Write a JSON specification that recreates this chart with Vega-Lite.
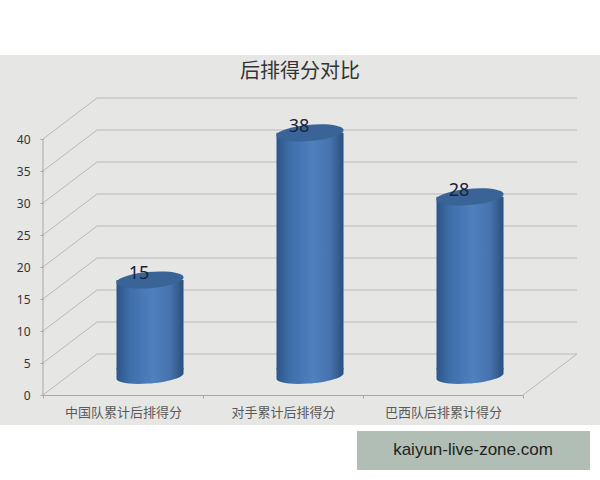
{
  "$schema": "https://vega.github.io/schema/vega-lite/v6.json",
  "width": 600,
  "height": 370,
  "autosize": "none",
  "padding": {"top": 55, "bottom": 55, "left": 0, "right": 0},
  "background": "#ffffff",
  "view": {"fill": "#e6e6e4", "stroke": null},
  "title": {
    "text": "后排得分对比",
    "font": "Noto Sans CJK SC",
    "fontSize": 20,
    "fontWeight": "normal",
    "color": "#333333",
    "anchor": "middle",
    "offset": -27
  },
  "datasets": {
    "scores": [
      {"team": "中国队累计后排得分", "score": 15},
      {"team": "对手累计后排得分", "score": 38},
      {"team": "巴西队后排累计得分", "score": 28}
    ],
    "grid": [
      {"v": 0}, {"v": 5}, {"v": 10}, {"v": 15}, {"v": 20},
      {"v": 25}, {"v": 30}, {"v": 35}, {"v": 40}
    ],
    "note": [{"label": "kaiyun-live-zone.com"}]
  },
  "layer": [
    {
      "data": {"name": "grid"},
      "mark": {"type": "rule", "color": "#b9b9b7", "strokeWidth": 1, "xOffset": 54, "x2Offset": 134, "yOffset": -41, "y2Offset": -41},
      "encoding": {
        "x": {
          "datum": "中国队累计后排得分",
          "type": "nominal",
          "bandPosition": 0,
          "sort": null,
          "scale": {
            "domain": ["中国队累计后排得分", "对手累计后排得分", "巴西队后排累计得分"],
            "range": [43, 523],
            "paddingInner": 0,
            "paddingOuter": 0
          },
          "axis": {
            "title": null,
            "orient": "bottom",
            "offset": -30,
            "tickBand": "extent",
            "labelAngle": 0,
            "labelFont": "Noto Sans CJK SC",
            "labelFontSize": 13,
            "labelColor": "#5a5a5a",
            "labelPadding": 8,
            "tickSize": 3,
            "tickColor": "#a8a8a6",
            "domainColor": "#a8a8a6",
            "grid": false
          }
        },
        "x2": {"datum": "巴西队后排累计得分"},
        "y": {
          "field": "v",
          "type": "quantitative",
          "scale": {"domain": [-4.6875, 53.125], "nice": false, "zero": false},
          "axis": {
            "title": null,
            "orient": "left",
            "offset": -43,
            "values": [0, 5, 10, 15, 20, 25, 30, 35, 40],
            "domain": false,
            "grid": false,
            "labelFont": "Noto Sans",
            "labelFontSize": 12,
            "labelColor": "#333333",
            "labelPadding": 10,
            "tickSize": 3,
            "tickColor": "#a8a8a6"
          }
        }
      }
    },
    {
      "data": {"name": "grid"},
      "mark": {"type": "rule", "color": "#b9b9b7", "strokeWidth": 1, "x2Offset": -26, "y2Offset": -41},
      "encoding": {
        "x": {"datum": "中国队累计后排得分", "type": "nominal", "bandPosition": 0},
        "x2": {"datum": "中国队累计后排得分"},
        "y": {"field": "v", "type": "quantitative"},
        "y2": {"field": "v"}
      }
    },
    {
      "data": {"values": [{"v": 0}]},
      "mark": {"type": "rule", "color": "#b9b9b7", "strokeWidth": 1, "x2Offset": 134, "y2Offset": -41},
      "encoding": {
        "x": {"datum": "巴西队后排累计得分", "type": "nominal", "bandPosition": 1},
        "x2": {"datum": "巴西队后排累计得分"},
        "y": {"field": "v", "type": "quantitative"},
        "y2": {"field": "v"}
      }
    },
    {
      "data": {"name": "grid"},
      "transform": [{"filter": "datum.v == 0"}],
      "mark": {"type": "rule", "color": "#a8a8a6", "strokeWidth": 1},
      "encoding": {
        "x": {"datum": "中国队累计后排得分", "type": "nominal", "bandPosition": 0},
        "y": {"datum": 0, "type": "quantitative"},
        "y2": {"datum": 40}
      }
    },
    {
      "data": {"name": "scores"},
      "mark": {
        "type": "point",
        "filled": true,
        "opacity": 1,
        "size": 4489,
        "xOffset": 27,
        "yOffset": -19,
        "shape": "M -1 -0.25 L 1 -0.25 L 1 -0.07 A 1 0.22 -5 0 1 -1 0.07 Z",
        "fill": {
          "x1": 0, "y1": 0, "x2": 1, "y2": 0, "gradient": "linear",
          "stops": [
            {"offset": 0, "color": "#2c5688"},
            {"offset": 0.2, "color": "#3f6ea9"},
            {"offset": 0.55, "color": "#4f80bf"},
            {"offset": 0.8, "color": "#4673ad"},
            {"offset": 1, "color": "#2b4f7d"}
          ]
        }
      },
      "encoding": {
        "x": {"field": "team", "type": "nominal"},
        "y": {"datum": 0, "type": "quantitative"}
      }
    },
    {
      "data": {"name": "scores"},
      "mark": {
        "type": "bar",
        "width": 67,
        "xOffset": 27,
        "yOffset": -19,
        "y2Offset": -19,
        "fill": {
          "x1": 0, "y1": 0, "x2": 1, "y2": 0, "gradient": "linear",
          "stops": [
            {"offset": 0, "color": "#2c5688"},
            {"offset": 0.2, "color": "#3f6ea9"},
            {"offset": 0.55, "color": "#4f80bf"},
            {"offset": 0.8, "color": "#4673ad"},
            {"offset": 1, "color": "#2b4f7d"}
          ]
        }
      },
      "encoding": {
        "x": {"field": "team", "type": "nominal"},
        "y": {"field": "score", "type": "quantitative"},
        "y2": {"datum": 1}
      }
    },
    {
      "data": {"name": "scores"},
      "mark": {
        "type": "point",
        "filled": true,
        "opacity": 1,
        "size": 4489,
        "xOffset": 27,
        "yOffset": -19,
        "color": "#3a6397",
        "shape": "M -1 0.1 A 1 0.24 -5 0 0 1 -0.1 A 1 0.24 -5 0 0 -1 0.1 Z"
      },
      "encoding": {
        "x": {"field": "team", "type": "nominal"},
        "y": {"field": "score", "type": "quantitative"}
      }
    },
    {
      "data": {"name": "scores"},
      "mark": {
        "type": "text",
        "font": "Noto Sans",
        "fontSize": 18,
        "color": "#14233a",
        "xOffset": 16,
        "yOffset": -25
      },
      "encoding": {
        "x": {"field": "team", "type": "nominal"},
        "y": {"field": "score", "type": "quantitative"},
        "text": {"field": "score", "type": "quantitative"}
      }
    },
    {
      "data": {"name": "note"},
      "mark": {"type": "rect", "color": "#b1beb5", "clip": false},
      "encoding": {
        "x": {"value": 357},
        "x2": {"value": 590},
        "y": {"value": 376},
        "y2": {"value": 415}
      }
    },
    {
      "data": {"name": "note"},
      "mark": {
        "type": "text",
        "font": "Liberation Sans",
        "fontSize": 17,
        "color": "#1d2320",
        "clip": false
      },
      "encoding": {
        "x": {"value": 473},
        "y": {"value": 395},
        "text": {"field": "label", "type": "nominal"}
      }
    }
  ]
}
